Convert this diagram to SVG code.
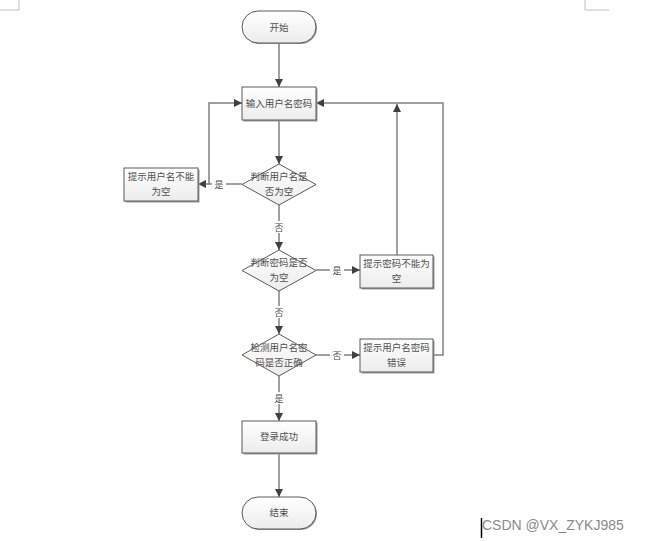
<svg xmlns="http://www.w3.org/2000/svg" width="645" height="541" viewBox="0 0 645 541">
<defs>
<linearGradient id="g" x1="0" y1="0" x2="0" y2="1">
<stop offset="0" stop-color="#ffffff"/>
<stop offset="1" stop-color="#ececec"/>
</linearGradient>
<marker id="ah" viewBox="0 0 10 10" refX="10" refY="5" markerWidth="8" markerHeight="8" markerUnits="userSpaceOnUse" orient="auto">
<path d="M0,0 L10,5 L0,10 z" fill="#404040"/>
</marker>
</defs>
<style>
.shape{fill:url(#g);stroke:#5a5a5a;stroke-width:1}
.shadow{fill:#9a9a9a}
.t{font-family:"Noto Sans CJK SC","Liberation Sans",sans-serif;font-size:9.5px;fill:#505050;text-anchor:middle}
.lbl{font-family:"Noto Sans CJK SC","Liberation Sans",sans-serif;font-size:9px;fill:#505050;text-anchor:middle}
.ca{fill:none;stroke:#808080;stroke-width:1.5;marker-end:url(#ah)}
</style>
<rect width="645" height="541" fill="#ffffff"/>
<path d="M19,0 V10 H0" fill="none" stroke="#c0c0c0" stroke-width="1"/>
<path d="M585,0 V10 H609" fill="none" stroke="#c0c0c0" stroke-width="1"/>

<g id="connectors">
<line x1="279" y1="43" x2="279" y2="87" class="ca"/>
<line x1="279" y1="120" x2="279" y2="164" class="ca"/>
<line x1="242" y1="184" x2="198" y2="184" class="ca"/>
<polyline points="209,184 209,103 242,103" class="ca"/>
<line x1="279" y1="205" x2="279" y2="250" class="ca"/>
<line x1="316" y1="270" x2="360" y2="270" class="ca"/>
<line x1="397" y1="255" x2="397" y2="104" class="ca"/>
<line x1="279" y1="291" x2="279" y2="334" class="ca"/>
<line x1="316" y1="355" x2="360" y2="355" class="ca"/>
<polyline points="433,355 443,355 443,103 316,103" class="ca"/>
<line x1="279" y1="376" x2="279" y2="421" class="ca"/>
<line x1="279" y1="453" x2="279" y2="497" class="ca"/>
<rect x="212" y="178" width="14" height="12" fill="#fff"/>
<text x="219" y="187.5" class="lbl">是</text>
<rect x="272" y="221" width="14" height="12" fill="#fff"/>
<text x="279" y="230.5" class="lbl">否</text>
<rect x="330" y="264" width="14" height="12" fill="#fff"/>
<text x="337" y="273.5" class="lbl">是</text>
<rect x="272" y="306" width="14" height="12" fill="#fff"/>
<text x="279" y="315.5" class="lbl">否</text>
<rect x="330" y="349" width="14" height="12" fill="#fff"/>
<text x="337" y="358.5" class="lbl">否</text>
<rect x="272" y="392" width="14" height="12" fill="#fff"/>
<text x="279" y="401.5" class="lbl">是</text>
</g>

<g id="start">
<rect x="243" y="12" width="74" height="32" rx="16" class="shadow"/>
<rect x="242" y="11" width="74" height="32" rx="16" class="shape"/>
<text x="279" y="30.5" class="t">开始</text>
</g>
<g id="input">
<rect x="243.5" y="88.5" width="74" height="33" class="shadow"/>
<rect x="242" y="87" width="74" height="33" class="shape"/>
<text x="279" y="106.5" class="t">输入用户名密码</text>
</g>
<g id="check-user">
<path d="M279,164 L316,184.5 L279,205 L242,184.5 z" class="shape"/>
<text x="279" y="180" class="t">判断用户名是</text>
<text x="279" y="195" class="t">否为空</text>
</g>
<g id="user-empty">
<rect x="125.5" y="169.5" width="74" height="33" class="shadow"/>
<rect x="124" y="168" width="74" height="33" class="shape"/>
<text x="161" y="180" class="t">提示用户名不能</text>
<text x="161" y="195" class="t">为空</text>
</g>
<g id="check-pwd">
<path d="M279,250 L316,270.5 L279,291 L242,270.5 z" class="shape"/>
<text x="279" y="266" class="t">判断密码是否</text>
<text x="279" y="281" class="t">为空</text>
</g>
<g id="pwd-empty">
<rect x="361.5" y="256.5" width="73" height="33" class="shadow"/>
<rect x="360" y="255" width="73" height="33" class="shape"/>
<text x="396.5" y="267" class="t">提示密码不能为</text>
<text x="396.5" y="282" class="t">空</text>
</g>
<g id="check-both">
<path d="M279,334 L316,355 L279,376 L242,355 z" class="shape"/>
<text x="279" y="351" class="t">检测用户名密</text>
<text x="279" y="366" class="t">码是否正确</text>
</g>
<g id="wrong">
<rect x="361.5" y="340.5" width="73" height="33" class="shadow"/>
<rect x="360" y="339" width="73" height="33" class="shape"/>
<text x="396.5" y="351" class="t">提示用户名密码</text>
<text x="396.5" y="366" class="t">错误</text>
</g>
<g id="success">
<rect x="243.5" y="422.5" width="74" height="32" class="shadow"/>
<rect x="242" y="421" width="74" height="32" class="shape"/>
<text x="279" y="440" class="t">登录成功</text>
</g>
<g id="end">
<rect x="243" y="498" width="74" height="32" rx="16" class="shadow"/>
<rect x="242" y="497" width="74" height="32" rx="16" class="shape"/>
<text x="279" y="516" class="t">结束</text>
</g>

<line x1="481.5" y1="518" x2="481.5" y2="538" stroke="#000" stroke-width="1.5"/>
<text x="482" y="530" font-family="'Liberation Sans',Arial,sans-serif" font-size="14" fill="#8a8a8a">CSDN @VX_ZYKJ985</text>
</svg>
